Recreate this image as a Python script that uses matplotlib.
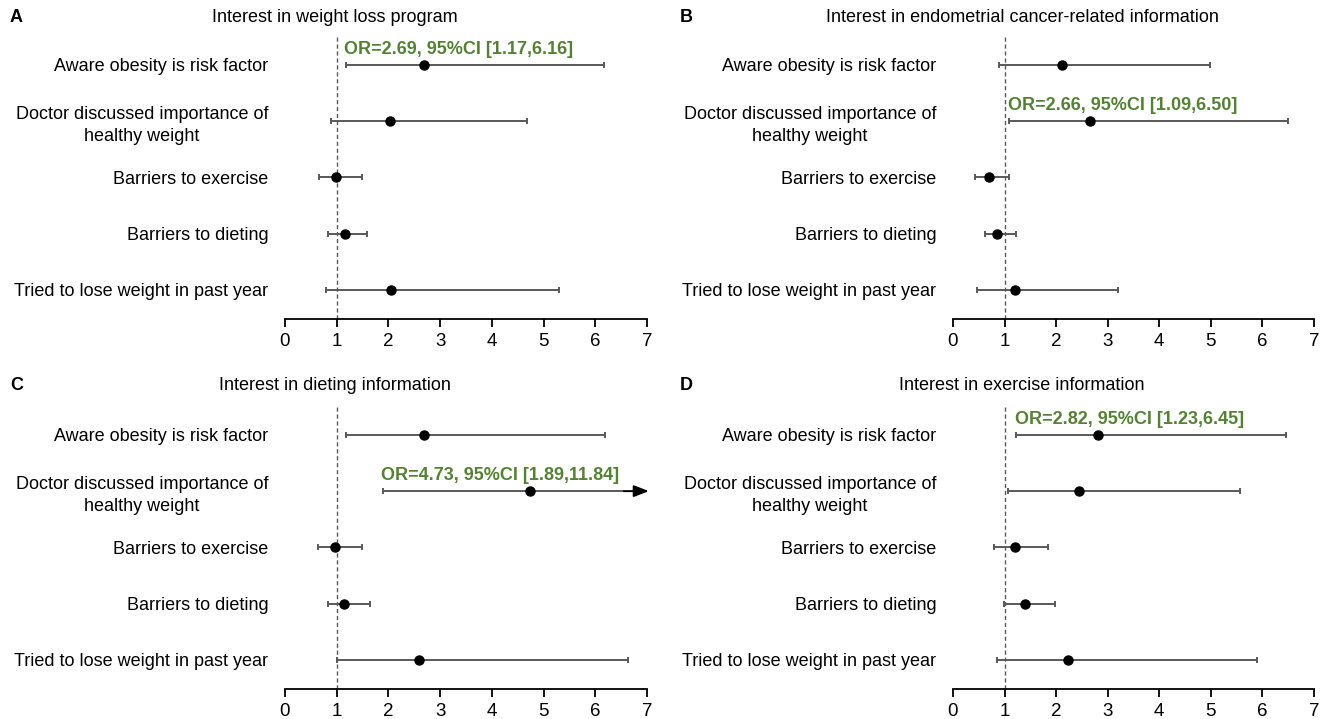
import matplotlib
matplotlib.use("Agg")
import matplotlib.pyplot as plt
import numpy as np

plt.rcParams['font.family'] = ['Liberation Sans', 'DejaVu Sans']

categories = ["Aware obesity is risk factor",
              "Doctor discussed importance of\nhealthy weight",
              "Barriers to exercise",
              "Barriers to dieting",
              "Tried to lose weight in past year"]

panel_letters = ["A", "B", "C", "D"]
panel_titles = ["Interest in weight loss program",
                "Interest in endometrial cancer-related information",
                "Interest in dieting information",
                "Interest in exercise information"]

or_A = [2.69, 2.03, 0.99, 1.16, 2.05]
lo_A = [1.17, 0.88, 0.66, 0.84, 0.79]
hi_A = [6.16, 4.68, 1.48, 1.58, 5.30]

or_B = [2.12, 2.66, 0.69, 0.86, 1.21]
lo_B = [0.90, 1.09, 0.43, 0.63, 0.46]
hi_B = [4.98, 6.50, 1.09, 1.22, 3.20]

or_C = [2.68, 4.73, 0.97, 1.15, 2.60]
lo_C = [1.18, 1.89, 0.64, 0.83, 1.00]
hi_C = [6.19, 11.84, 1.49, 1.65, 6.63]

or_D = [2.82, 2.44, 1.20, 1.39, 2.23]
lo_D = [1.23, 1.06, 0.80, 0.98, 0.86]
hi_D = [6.45, 5.56, 1.84, 1.97, 5.90]

# index of highlighted (significant) row per panel
highlight = [0, 1, 1, 0]

xticks = [0, 1, 2, 3, 4, 5, 6, 7]
xmax = 7

GREEN = "#548235"
GRAY = "#595959"

fig = plt.figure(figsize=(13.25, 7.19), dpi=100)
W, H = 1325, 719

def px_axes(x0, x1, ytop, ybot):
    return fig.add_axes([x0 / W, 1 - ybot / H, (x1 - x0) / W, (ybot - ytop) / H])

axes_px = [(285, 647, 35, 319), (953, 1314, 35, 319),
           (285, 647, 405, 689), (953, 1314, 405, 689)]
letter_pos = [(10, 18), (680, 18), (10, 386), (680, 386)]
title_pos = [(335, 17), (1022, 17), (335, 386), (1022, 386)]

data = [(or_A, lo_A, hi_A), (or_B, lo_B, hi_B), (or_C, lo_C, hi_C), (or_D, lo_D, hi_D)]

for i, (orv, lov, hiv) in enumerate(data):
    ax = px_axes(*axes_px[i])
    n = len(categories)
    ys = np.arange(n, 0, -1)
    ax.set_xlim(0, xmax)
    ax.set_ylim(0.484, 5.53)
    ax.axvline(1, color=GRAY, lw=1.0, ls=(0, (3, 2)), zorder=1)
    for y, o, lo, hi in zip(ys, orv, lov, hiv):
        if hi > xmax:
            ax.hlines(y, lo, 6.55, color=GRAY, lw=1.4, zorder=2)
            ax.plot([lo], [y], marker='|', color=GRAY, ms=5, mew=1.4, zorder=2)
            ax.annotate("", xy=(7.09, y), xytext=(6.5, y),
                        arrowprops=dict(arrowstyle="-|>,head_length=0.9,head_width=0.35",
                                        color="black", lw=1.4),
                        annotation_clip=False, zorder=3)
        else:
            ax.errorbar([o], [y], xerr=[[o - lo], [hi - o]], fmt='none',
                        ecolor=GRAY, elinewidth=1.4, capsize=2.5, capthick=1.4, zorder=2)
        ax.plot([o], [y], 'o', color='black', ms=6.5, zorder=4, clip_on=False)
    h = highlight[i]
    txt = "OR={:.2f}, 95%CI [{:.2f},{:.2f}]".format(orv[h], lov[h], hiv[h])
    ax.annotate(txt, xy=(lov[h], ys[h]), xytext=(-1, 5), textcoords='offset points',
                ha='left', va='bottom', color=GREEN, fontsize=13, fontweight='bold')
    ax.set_yticks(ys)
    ax.set_yticklabels(categories, fontsize=13, ha='right', multialignment='center',
                       linespacing=1.35)
    ax.tick_params(axis='y', length=0, pad=12)
    ax.set_xticks(xticks)
    ax.set_xticklabels([str(t) for t in xticks], fontsize=13.5)
    ax.tick_params(axis='x', length=6, width=1.3, direction='out', pad=4)
    for s in ['top', 'right', 'left']:
        ax.spines[s].set_visible(False)
    ax.spines['bottom'].set_linewidth(1.3)
    lx, ly = letter_pos[i]
    fig.text(lx / W, 1 - ly / H, panel_letters[i], fontsize=13, fontweight='bold',
             ha='left', va='center')
    tx, ty = title_pos[i]
    fig.text(tx / W, 1 - ty / H, panel_titles[i], fontsize=13, ha='center', va='center')

fig.savefig("out.png", dpi=100)
